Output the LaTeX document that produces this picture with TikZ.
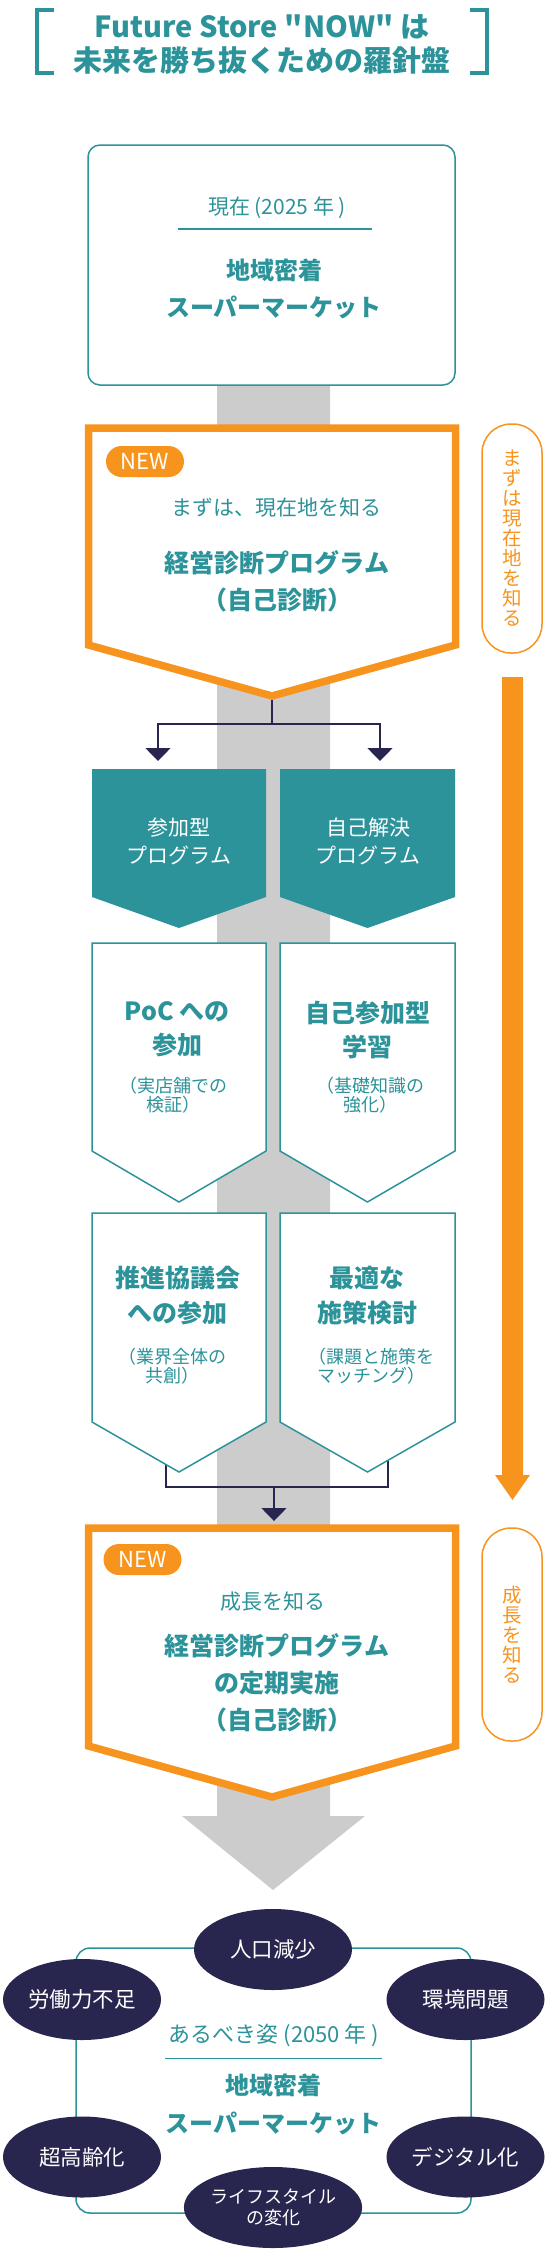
\documentclass[tikz,border=0pt]{standalone}
\usepackage{fontspec}
\setmainfont{Noto Sans CJK JP}
\newfontfamily\titlefont{Noto Sans CJK JP}
\usetikzlibrary{arrows.meta,shapes.geometric}
\usepackage{xcolor}
\definecolor{fsteal}{HTML}{2B9399}
\definecolor{fsorange}{HTML}{F7941D}
\definecolor{fsnavy}{HTML}{28264F}
\definecolor{fsgray}{HTML}{CCCCCC}

\begin{document}
\begin{tikzpicture}[x=1pt,y=-1pt]
\tikzstyle{every node}+=[inner sep=0pt]
\tikzstyle{head}=[font=\bfseries\fontsize{25}{37}\selectfont,text=fsteal,align=center]
\tikzstyle{sub}=[font=\fontsize{21}{28}\selectfont,text=fsteal,align=center]
\tikzstyle{note}=[font=\fontsize{18}{19}\selectfont,text=fsteal,align=center]
\tikzstyle{progtext}=[font=\fontsize{21}{28}\selectfont,text=white,align=center]
\tikzstyle{newtag}=[fill=fsorange,text=white,rounded corners=15.5pt,minimum width=78pt,minimum height=31pt,font=\fontsize{22}{22}\selectfont]
\tikzstyle{sidetag}=[draw=fsorange,line width=1.5pt,rounded corners=29pt,minimum width=60pt,text=fsorange,align=center,font=\fontsize{19.5}{20}\selectfont]
\tikzstyle{issue}=[ellipse,fill=fsnavy,text=white,minimum width=158pt,minimum height=81pt,align=center,font=\fontsize{21.5}{23}\selectfont]
\tikzstyle{link}=[draw=fsnavy,line width=1.5pt,-{Triangle[width=25pt,length=13pt]}]
\tikzstyle{wire}=[draw=fsnavy,line width=1.5pt]
\useasboundingbox (0,0) rectangle (546,2255);
% title
\draw [fsteal,line width=4pt] (54,10) -- (37,10) -- (37,73) -- (54,73);
\draw [fsteal,line width=4pt] (470,10) -- (486.5,10) -- (486.5,73) -- (470,73);
\node [font=\titlefont\bfseries\fontsize{29}{34}\selectfont,text=fsteal,align=center] (title) at (262,44) {Future Store "NOW" は\\未来を勝ち抜くための羅針盤};
% gray band and big arrow
\fill [fsgray] (217,380) -- (330,380) -- (330,1816) -- (365,1816) -- (273,1890) -- (182,1816) -- (217,1816) -- cycle;
% orange side arrow
\fill [fsorange] (502,677) -- (523,677) -- (523,1475) -- (530,1475) -- (512.5,1500) -- (495,1475) -- (502,1475) -- cycle;
% now box
\draw [fsteal,line width=1.5pt,fill=white,rounded corners=12pt] (88,145) rectangle (455,385);
\node [sub] (nowyear) at (277,208) {現在 (2025 年 )};
\draw [fsteal,line width=1.5pt] (178,229) -- (372,229);
\node [head,font=\bfseries\fontsize{24}{37}\selectfont] (nowname) at (274,288.5) {地域密着\\スーパーマーケット};
% connectors (behind boxes)
\coordinate (mtip) at (272,700);
\coordinate (split) at (272,724);
\coordinate (ina) at (158,761);
\coordinate (inb) at (380,761);
\draw [wire] (mtip) -- (split);
\draw [link] (split) -| (ina);
\draw [link] (split) -| (inb);
\coordinate (outa) at (166,1440);
\coordinate (outb) at (388,1440);
\coordinate (merge) at (274,1487);
\coordinate (ingrow) at (274,1521);
\draw [wire] (outa) |- (merge);
\draw [wire] (outb) |- (merge);
\draw [link] (merge) -- (ingrow);
% first orange box
\draw [fsorange,line width=7.5pt,fill=white] (88.5,428) -- (455.5,428) -- (455.5,645) -- (272,696) -- (88.5,645) -- cycle;
\node [newtag] (new1) at (145,461.5) {NEW};
\node [sub] (lead1) at (276,508) {まずは、現在地を知る};
\node [head] (prog1) at (277,581.5) {経営診断プログラム\\（自己診断）};
\node [sidetag,minimum height=229pt] (tagnow) at (512,538.5) {ま\\ず\\は\\現\\在\\地\\を\\知\\る};
% program boxes
\fill [fsteal] (92,769) -- (266,769) -- (266,897) -- (179,928) -- (92,897) -- cycle;
\fill [fsteal] (280,769) -- (455,769) -- (455,897) -- (367.5,928) -- (280,897) -- cycle;
\node [progtext] (joinp) at (179,841) {参加型\\プログラム};
\node [progtext] (selfp) at (368,841) {自己解決\\プログラム};
% step boxes
\draw [fsteal,line width=1.5pt,fill=white] (92,943) -- (266,943) -- (266,1151) -- (179,1202) -- (92,1151) -- cycle;
\draw [fsteal,line width=1.5pt,fill=white] (280,943) -- (455,943) -- (455,1151) -- (367.5,1202) -- (280,1151) -- cycle;
\draw [fsteal,line width=1.5pt,fill=white] (92,1213) -- (266,1213) -- (266,1422) -- (179,1472) -- (92,1422) -- cycle;
\draw [fsteal,line width=1.5pt,fill=white] (280,1213) -- (455,1213) -- (455,1422) -- (367.5,1472) -- (280,1422) -- cycle;
\node [head,font=\bfseries\fontsize{25}{34}\selectfont] (poc) at (177,1029.5) {PoC への\\参加};
\node [note] (pocnote) at (173,1095.5) {（実店舗での\\検証）};
\node [head,font=\bfseries\fontsize{25}{34}\selectfont] (study) at (367.5,1029.5) {自己参加型\\学習};
\node [note] (studynote) at (370,1095.5) {（基礎知識の\\強化）};
\node [head,font=\bfseries\fontsize{25}{35}\selectfont] (council) at (177.5,1295.5) {推進協議会\\への参加};
\node [note] (councilnote) at (172.5,1366.5) {（業界全体の\\共創）};
\node [head,font=\bfseries\fontsize{25}{35}\selectfont] (plan) at (367,1295.5) {最適な\\施策検討};
\node [note] (plannote) at (371,1366.5) {（課題と施策を\\マッチング）};
% second orange box
\draw [fsorange,line width=7.5pt,fill=white] (88.5,1528) -- (455.5,1528) -- (455.5,1746) -- (272,1797) -- (88.5,1746) -- cycle;
\node [newtag] (new2) at (142.5,1559.5) {NEW};
\node [sub] (lead2) at (272.5,1602) {成長を知る};
\node [head] (prog2) at (277,1682.5) {経営診断プログラム\\の定期実施\\（自己診断）};
\node [sidetag,minimum height=213pt] (taggrow) at (512,1634.5) {成\\長\\を\\知\\る};
% goal
\draw [fsteal,line width=1.5pt,rounded corners=14pt] (76,1948) rectangle (471,2213);
\node [sub,font=\fontsize{22}{28}\selectfont] (goalyear) at (274,2035) {あるべき姿 (2050 年 )};
\draw [fsteal,line width=1.5pt] (165,2058.5) -- (382,2058.5);
\node [head,font=\bfseries\fontsize{24}{38}\selectfont] (goalname) at (273.5,2104) {地域密着\\スーパーマーケット};
\node [issue] (pop) at (273,1949.5) {人口減少};
\node [issue] (labor) at (82,1999.5) {労働力不足};
\node [issue] (env) at (465.5,1999.5) {環境問題};
\node [issue] (aging) at (82,2157) {超高齢化};
\node [issue] (digital) at (465.5,2157) {デジタル化};
\node [issue,font=\fontsize{18}{21}\selectfont] (life) at (273,2207.5) {ライフスタイル\\の変化};
\end{tikzpicture}
\end{document}
